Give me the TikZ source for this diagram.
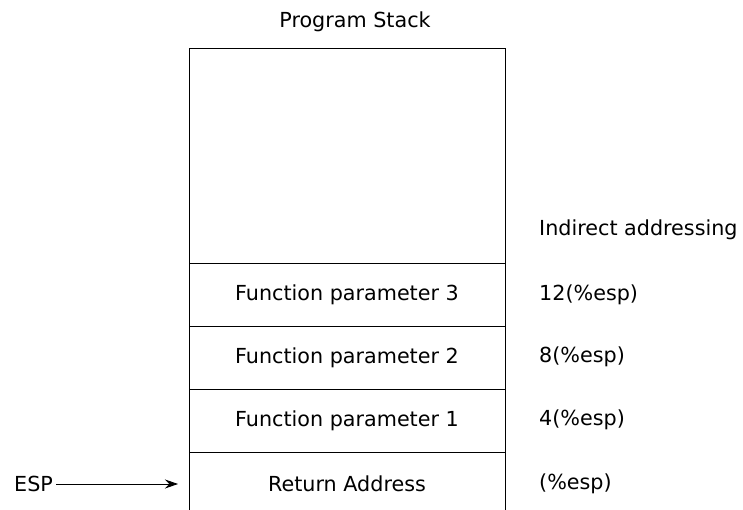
\documentclass[tikz,border=0pt]{standalone}
\usepackage{fontspec}
\setmainfont{DejaVu Sans}
\usetikzlibrary{arrows.meta,positioning,calc}

\begin{document}
\begin{tikzpicture}[
    x=1pt, y=-1pt,
    cell/.style={rectangle, minimum width=316pt, minimum height=63pt, inner sep=0pt, font=\fontsize{20.7}{24}\selectfont},
    lbl/.style={anchor=west, inner sep=0pt, font=\fontsize{20.7}{24}\selectfont},
    frame/.style={line width=0.9pt}
]
\useasboundingbox (0,0) rectangle (743,510);

% Title
\node[lbl, anchor=center] (title) at (355, 22) {Program Stack};

% Stack frame
\draw[frame] (189, 510) -- (189, 48) -- (505, 48) -- (505, 510);
\foreach \y in {263, 326, 389, 452} {
    \draw[frame] (189, \y) -- (505, \y);
}

% Cells
\node[cell] (p3) at (347, 294.5) {Function parameter 3};
\node[cell] (p2) at (347, 357.5) {Function parameter 2};
\node[cell] (p1) at (347, 420.5) {Function parameter 1};
\node[cell] (ret) at (347, 483.5) {Return Address};

% Indirect addressing
\node[lbl] (ind) at (539, 230) {Indirect addressing};
\node[lbl] (o12) at (539, 295) {12(\%esp)};
\node[lbl] (o8) at (539, 357) {8(\%esp)};
\node[lbl] (o4) at (539, 420) {4(\%esp)};
\node[lbl] (o0) at (539, 484) {(\%esp)};

% Stack pointer
\node[lbl] (esp) at (14, 484) {ESP};
\coordinate (tip) at (178, 484);
\draw[-{Stealth[length=13pt, width=9pt]}, line width=0.8pt] ([xshift=3pt]esp.east) -- (tip);

\end{tikzpicture}
\end{document}
